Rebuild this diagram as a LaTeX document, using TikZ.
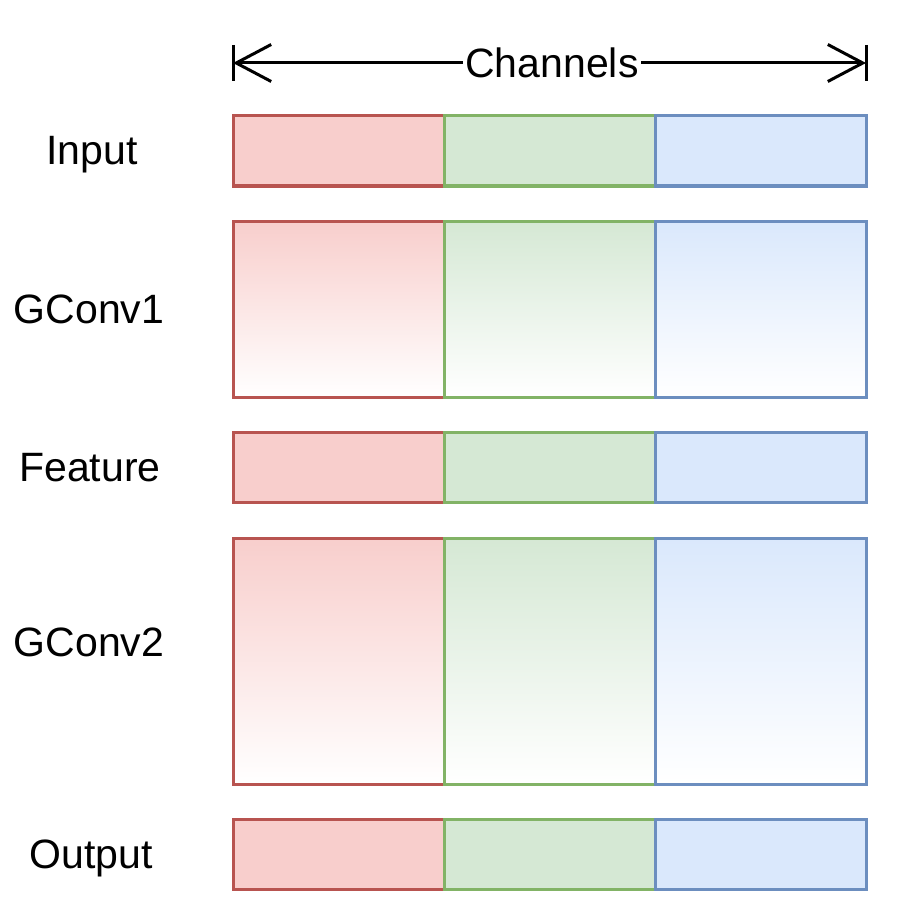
\documentclass[tikz,border=0pt]{standalone}
\usepackage{fontspec}
\setmainfont{Liberation Sans}
\usetikzlibrary{arrows.meta}
\definecolor{rfill}{HTML}{F8CECC}
\definecolor{rline}{HTML}{B85450}
\definecolor{gfill}{HTML}{D5E8D4}
\definecolor{gline}{HTML}{82B366}
\definecolor{bfill}{HTML}{DAE8FC}
\definecolor{bline}{HTML}{6C8EBF}
\tikzset{chtip/.tip={Straight Barb[length=35pt, width=37pt]}}
\begin{document}
\begin{tikzpicture}[x=1pt,y=-1pt,
  cell/.style={rectangle, line width=3pt, inner sep=0pt, outer sep=0pt, minimum width=211pt, anchor=north west},
  redflat/.style={cell, draw=rline, fill=rfill},
  greenflat/.style={cell, draw=gline, fill=gfill},
  blueflat/.style={cell, draw=bline, fill=bfill},
  redgrad/.style={cell, draw=rline, top color=rfill, bottom color=white},
  greengrad/.style={cell, draw=gline, top color=gfill, bottom color=white},
  bluegrad/.style={cell, draw=bline, top color=bfill, bottom color=white},
  lbl/.style={font=\fontsize{41}{48}\selectfont, anchor=base, inner sep=0pt}
]
\useasboundingbox (0,0) rectangle (902,920);

% rows
\node[redflat, minimum height=70pt] (in1) at (233,116) {};
\node[greenflat, minimum height=70pt] (in2) at (444,116) {};
\node[blueflat, minimum height=70pt] (in3) at (655,116) {};

\node[redgrad, minimum height=176pt] (g11) at (233,221) {};
\node[greengrad, minimum height=176pt] (g12) at (444,221) {};
\node[bluegrad, minimum height=176pt] (g13) at (655,221) {};

\node[redflat, minimum height=70pt] (f1) at (233,432) {};
\node[greenflat, minimum height=70pt] (f2) at (444,432) {};
\node[blueflat, minimum height=70pt] (f3) at (655,432) {};

\node[redgrad, minimum height=246pt] (g21) at (233,538) {};
\node[greengrad, minimum height=246pt] (g22) at (444,538) {};
\node[bluegrad, minimum height=246pt] (g23) at (655,538) {};

\node[redflat, minimum height=70pt] (o1) at (233,819) {};
\node[greenflat, minimum height=70pt] (o2) at (444,819) {};
\node[blueflat, minimum height=70pt] (o3) at (655,819) {};

% labels
\node[lbl] (linput) at (92,165) {Input};
\node[lbl] (lg1) at (89,323) {GConv1};
\node[lbl] (lfeat) at (90,481) {Feature};
\node[lbl] (lg2) at (89,656) {GConv2};
\node[lbl] (lout) at (91,868) {Output};

% channels arrow
\coordinate (cl) at (233,63);
\coordinate (cr) at (866,63);
\draw[line width=3pt, {chtip}-{chtip}] (cl) -- (cr);
\draw[line width=3pt] (cl) ++(0,-18) -- ++(0,36);
\draw[line width=3pt] (cr) ++(0,-18) -- ++(0,36);
\node[fill=white, inner sep=2pt, font=\fontsize{41}{48}\selectfont] (ch) at (552,63) {Channels};
\end{tikzpicture}
\end{document}
